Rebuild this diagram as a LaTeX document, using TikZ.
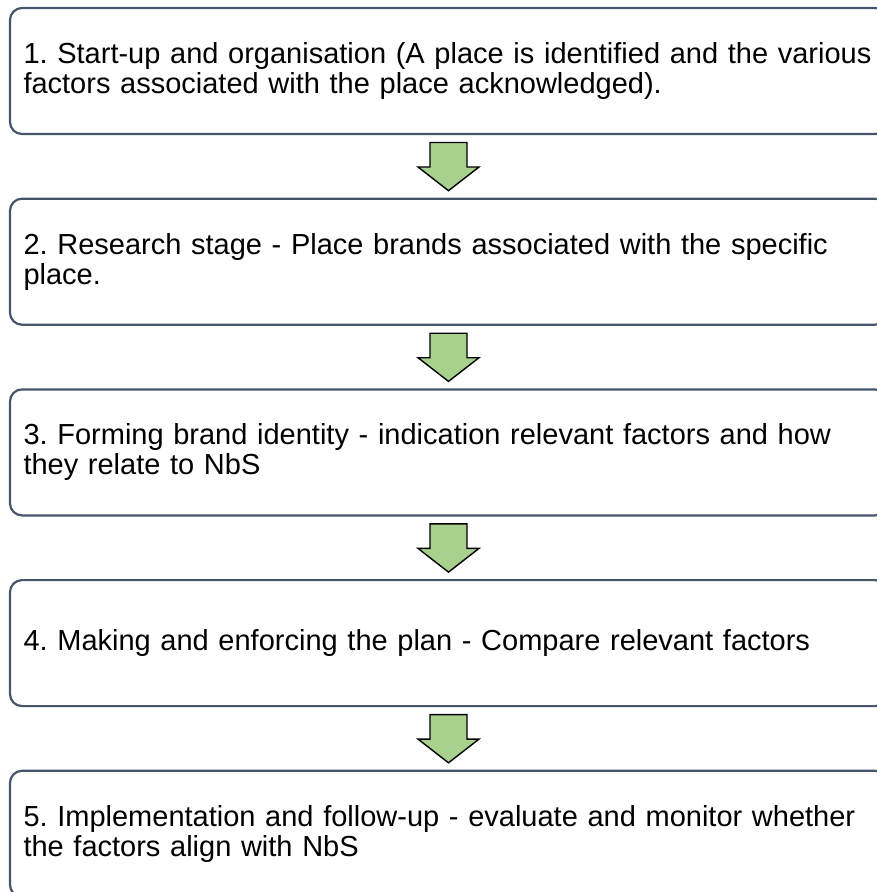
\documentclass[tikz,border=0pt]{standalone}
\usepackage{fontspec}
\setmainfont{Liberation Sans}
\usepackage{tikz}
\usetikzlibrary{positioning, calc}
\usepackage{xcolor}
\definecolor{boxline}{HTML}{46556B}
\definecolor{arrgreen}{HTML}{A9D18E}
\newcommand\stagefont{\fontsize{29pt}{30pt}\selectfont\frenchspacing\hyphenpenalty10000\relax}
\tikzset{
  stagebox/.style={rectangle, rounded corners=12pt, draw=boxline, line width=2.2pt,
                   fill=white, minimum width=877pt, minimum height=126pt,
                   text width=850pt, inner xsep=13.5pt, outer sep=0pt, align=left,
                   font=\stagefont},
  garr/.style={draw=black, line width=1.4pt, fill=arrgreen, line join=miter},
}
\begin{document}
\begin{tikzpicture}[node distance=64.7pt]
  \useasboundingbox (0,0) rectangle (877pt,-892pt);
  \clip (0,0) rectangle (877pt,-892pt);
  \node[stagebox, anchor=north west] (s1) at (10pt,-8pt)
    {1. Start-up and organisation (A place is identified and the various\\
     factors associated with the place acknowledged).};
  \node[stagebox, below=of s1] (s2)
    {2. Research stage - Place brands associated with the specific\\
     place.};
  \node[stagebox, below=of s2] (s3)
    {3. Forming brand identity - indication relevant factors and how\\
     they relate to NbS};
  \node[stagebox, below=of s3] (s4)
    {4. Making and enforcing the plan - Compare relevant factors};
  \node[stagebox, below=of s4] (s5)
    {5. Implementation and follow-up - evaluate and monitor whether\\
     the factors align with NbS};
  % block arrows between the stages
  \foreach \a/\b in {s1/s2, s2/s3, s3/s4, s4/s5}
    \draw[garr] ($(\a.south)+(-18.5pt,-8.5pt)$) -- ($(\a.south)+(18.5pt,-8.5pt)$)
      -- ($(\a.south)+(18.5pt,-33pt)$) -- ($(\a.south)+(30.5pt,-33pt)$)
      -- ($(\b.north)+(0,8pt)$) -- ($(\a.south)+(-30.5pt,-33pt)$)
      -- ($(\a.south)+(-18.5pt,-33pt)$) -- cycle;
\end{tikzpicture}
\end{document}
